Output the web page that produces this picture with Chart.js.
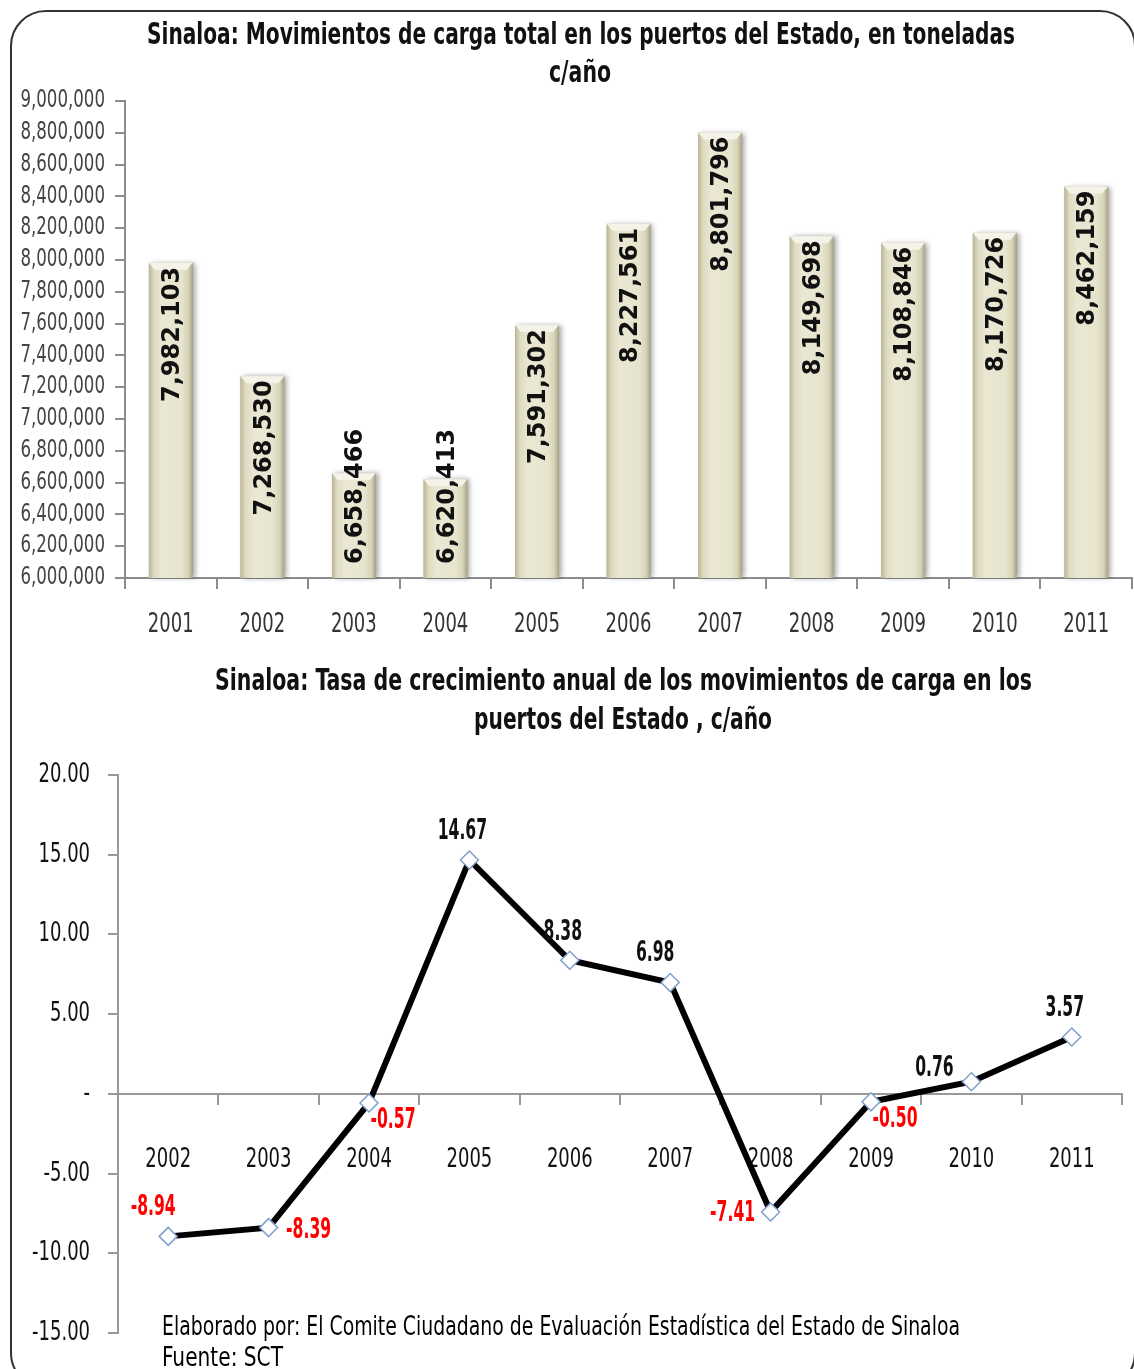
<!DOCTYPE html>
<html>
<head>
<meta charset="utf-8">
<script src="https://cdn.jsdelivr.net/npm/chart.js@4"></script>
<style>
  body { margin: 0; background: #fff; }
  #frame { position: relative; width: 1134px; height: 1369px; overflow: hidden; }
  .border { position: absolute; left: 10px; top: 10px; width: 1122px; height: 1375px; border: 2px solid #333; border-radius: 36px; }
  .box { position: absolute; left: 0; width: 1134px; }
  .txt { position: absolute; white-space: nowrap; color: #111; }
</style>
</head>
<body>
<div id="frame">
  <div class="border"></div>
  <div class="box" style="top:0;height:650px"><canvas id="chart-carga"></canvas></div>
  <div class="box" style="top:650px;height:719px"><canvas id="chart-tasa"></canvas></div>
  <div class="txt" id="title1a"></div>
  <div class="txt" id="title1b"></div>
  <div class="txt" id="title2a"></div>
  <div class="txt" id="title2b"></div>
  <div class="txt" id="foot1"></div>
  <div class="txt" id="foot2"></div>
</div>
<script>
const years = ['2001', '2002', '2003', '2004', '2005', '2006', '2007', '2008', '2009', '2010', '2011'];
const cargaToneladas = [7982103, 7268530, 6658466, 6620413, 7591302, 8227561, 8801796, 8149698, 8108846, 8170726, 8462159];
const tasaYears = ['2002', '2003', '2004', '2005', '2006', '2007', '2008', '2009', '2010', '2011'];
const tasaCrecimiento = [-8.94, -8.39, -0.57, 14.67, 8.38, 6.98, -7.41, -0.50, 0.76, 3.57];
// where each growth label sits around its point
const tasaLabelPos = ['topLeft', 'right', 'bottomRight', 'top', 'top', 'topLeft', 'left', 'bottomRight', 'upLeft', 'top'];

const NARROW = "'Liberation Sans Narrow', 'Arial Narrow', 'DejaVu Sans Condensed', sans-serif";
const COND = "'DejaVu Sans Condensed', sans-serif";

// squeeze html text into the width it has in the original
const placeText = (id, text, x, y, width, size, weight, anchor) => {
  const el = document.getElementById(id);
  el.textContent = text;
  el.style.font = `${weight} ${size}px ${NARROW}`;
  el.style.lineHeight = size + 'px';
  const natural = el.getBoundingClientRect().width;
  el.style.transformOrigin = 'left center';
  el.style.transform = `scaleX(${width / natural})`;
  el.style.left = (anchor === 'center' ? x - width / 2 : x) + 'px';
  el.style.top = (y - size / 2) + 'px';
};

placeText('title1a', 'Sinaloa: Movimientos de carga total en los puertos  del Estado, en toneladas', 581, 34, 868, 30, 'bold', 'center');
placeText('title1b', 'c/año', 580, 72, 62, 30, 'bold', 'center');
placeText('title2a', 'Sinaloa: Tasa de crecimiento anual de los movimientos de carga  en los', 623, 680, 817, 30, 'bold', 'center');
placeText('title2b', 'puertos del Estado , c/año', 623, 719, 298, 30, 'bold', 'center');
placeText('foot1', 'Elaborado por:  El Comite Ciudadano de Evaluación Estadística del Estado de Sinaloa', 162, 1326, 798, 26, 'normal', 'left');
placeText('foot2', 'Fuente:  SCT', 162, 1357, 121, 26, 'normal', 'left');
document.getElementById('foot1').style.color = '#000';
document.getElementById('foot2').style.color = '#000';

// canvas text, squeezed sideways (no narrow font installed)
const drawSqueezed = (ctx, text, x, y, align, sx) => {
  ctx.save();
  ctx.translate(x, y);
  ctx.scale(sx, 1);
  ctx.textAlign = align;
  ctx.textBaseline = 'middle';
  ctx.fillText(text, 0, 0);
  ctx.restore();
};

const tickPainter = (cfg) => ({
  id: 'tickPainter',
  beforeDatasetsDraw(chart) {
    const ctx = chart.ctx;
    const x = chart.scales.x;
    const y = chart.scales.y;
    ctx.save();
    ctx.font = cfg.xFont;
    ctx.fillStyle = cfg.xColor;
    const xLine = cfg.xAtZero ? y.getPixelForValue(0) : chart.chartArea.bottom;
    x.ticks.forEach((t, i) => {
      drawSqueezed(ctx, chart.data.labels[i], x.getPixelForTick(i), xLine + cfg.xGap, 'center', cfg.sx);
    });
    ctx.font = cfg.yFont;
    ctx.fillStyle = cfg.yColor;
    y.ticks.forEach((t, i) => {
      drawSqueezed(ctx, cfg.yFormat(t.value), cfg.yRight, y.getPixelForTick(i), 'right', cfg.sx);
    });
    ctx.restore();
  }
});

const barShade = {
  id: 'barShade',
  afterDatasetsDraw(chart) {
    const ctx = chart.ctx;
    chart.getDatasetMeta(0).data.forEach(bar => {
      const left = bar.x - bar.width / 2;
      const right = bar.x + bar.width / 2;
      const top = bar.y;
      const bottom = Math.min(bar.base, chart.chartArea.bottom);
      ctx.save();
      const grad = ctx.createLinearGradient(left, 0, right, 0);
      grad.addColorStop(0, '#bab597');
      grad.addColorStop(0.12, '#dfdbc2');
      grad.addColorStop(0.3, '#eae7d3');
      grad.addColorStop(0.75, '#e7e4ce');
      grad.addColorStop(0.9, '#d6d2b7');
      grad.addColorStop(1, '#a7a285');
      ctx.shadowColor = 'rgba(0,0,0,0.35)';
      ctx.shadowBlur = 5;
      ctx.shadowOffsetX = 3;
      ctx.fillStyle = grad;
      ctx.fillRect(left, top, bar.width, bottom - top);
      ctx.shadowColor = 'transparent';
      // little bevel at the top
      ctx.fillStyle = '#f5f3e8';
      ctx.beginPath();
      ctx.moveTo(left, top);
      ctx.lineTo(right, top);
      ctx.lineTo(right - 6, top + 7);
      ctx.lineTo(left + 6, top + 7);
      ctx.closePath();
      ctx.fill();
      ctx.restore();
    });
  }
};

const barLabels = {
  id: 'barLabels',
  afterDatasetsDraw(chart) {
    const ctx = chart.ctx;
    const bottom = chart.chartArea.bottom;
    ctx.save();
    ctx.font = "bold 24px 'DejaVu Sans', sans-serif";
    ctx.fillStyle = '#111';
    ctx.textAlign = 'center';
    ctx.textBaseline = 'middle';
    chart.getDatasetMeta(0).data.forEach((bar, i) => {
      const text = cargaToneladas[i].toLocaleString('en-US');
      const w = ctx.measureText(text).width;
      let top = bar.y + 4;
      // short bars: keep the label off the axis
      if (top + w > bottom - 14) top = bottom - 14 - w;
      ctx.save();
      ctx.translate(bar.x + 2, top + w / 2);
      ctx.rotate(-Math.PI / 2);
      ctx.fillText(text, 0, 0);
      ctx.restore();
    });
    ctx.restore();
  }
};

const labelOffsets = {
  top: [-7, -28],
  topLeft: [-15, -29],
  upLeft: [-37, -13],
  right: [40, 3],
  left: [-38, 2],
  bottomRight: [24, 18]
};

const pointLabels = {
  id: 'pointLabels',
  afterDatasetsDraw(chart) {
    const ctx = chart.ctx;
    ctx.save();
    ctx.font = `bold 28px ${COND}`;
    chart.getDatasetMeta(0).data.forEach((pt, i) => {
      const v = tasaCrecimiento[i];
      const off = labelOffsets[tasaLabelPos[i]];
      ctx.fillStyle = v < 0 ? '#ff0000' : '#111';
      drawSqueezed(ctx, v.toFixed(2), pt.x + off[0], pt.y + off[1], 'center', 0.62);
    });
    ctx.restore();
  }
};

const createCargaChart = () => {
  new Chart(document.getElementById('chart-carga'), {
    type: 'bar',
    data: {
      labels: years,
      datasets: [{
        data: cargaToneladas,
        backgroundColor: '#e7e4cd',
        barPercentage: 0.48,
        categoryPercentage: 1
      }]
    },
    options: {
      responsive: true,
      maintainAspectRatio: false,
      animation: false,
      layout: { padding: { top: 101, right: 2, left: 0, bottom: 0 } },
      plugins: { legend: { display: false }, tooltip: { enabled: false } },
      scales: {
        x: {
          grid: { drawOnChartArea: false, tickLength: 11, color: '#8c8c8c', lineWidth: 2, offset: true },
          border: { color: '#8c8c8c', width: 2 },
          ticks: { display: false },
          afterFit: s => { s.height = 72; }
        },
        y: {
          min: 6000000,
          max: 9000000,
          ticks: { stepSize: 200000, display: false, autoSkip: false },
          grid: { drawOnChartArea: false, tickLength: 10, color: '#8c8c8c', lineWidth: 2 },
          border: { color: '#8c8c8c', width: 2 },
          afterFit: s => { s.width = 125; }
        }
      }
    },
    plugins: [tickPainter({
      xFont: `26px ${COND}`, xColor: '#333', xGap: 47, xAtZero: false, sx: 0.77,
      yFont: `24px ${COND}`, yColor: '#444', yRight: 105,
      yFormat: v => v.toLocaleString('en-US')
    }), barShade, barLabels]
  });
};

const createTasaChart = () => {
  new Chart(document.getElementById('chart-tasa'), {
    type: 'line',
    data: {
      labels: tasaYears,
      datasets: [{
        data: tasaCrecimiento,
        borderColor: '#000',
        borderWidth: 6,
        tension: 0,
        pointStyle: 'rectRot',
        pointRadius: 9,
        pointBackgroundColor: '#fff',
        pointBorderColor: '#7f9fcc',
        pointBorderWidth: 1.5
      }]
    },
    options: {
      responsive: true,
      maintainAspectRatio: false,
      animation: false,
      layout: { padding: { top: 125, right: 12, left: 0, bottom: 36 } },
      plugins: { legend: { display: false }, tooltip: { enabled: false } },
      scales: {
        x: {
          position: { y: 0 },
          offset: true,
          grid: { drawOnChartArea: false, tickLength: 10, color: '#999', lineWidth: 2, offset: true },
          border: { color: '#999', width: 2 },
          ticks: { display: false }
        },
        y: {
          min: -15,
          max: 20,
          ticks: { stepSize: 5, display: false },
          grid: { drawOnChartArea: false, tickLength: 10, color: '#999', lineWidth: 2 },
          border: { color: '#999', width: 2 },
          afterFit: s => { s.width = 118; }
        }
      }
    },
    plugins: [tickPainter({
      xFont: `27px ${COND}`, xColor: '#111', xGap: 66, xAtZero: true, sx: 0.74,
      yFont: `27px ${COND}`, yColor: '#111', yRight: 90,
      yFormat: v => v === 0 ? '-' : v.toFixed(2)
    }), pointLabels]
  });
};

if (window.Chart === undefined) {
  console.error('Chart.js not loaded');
} else {
  createCargaChart();
  createTasaChart();
}
</script>
</body>
</html>
